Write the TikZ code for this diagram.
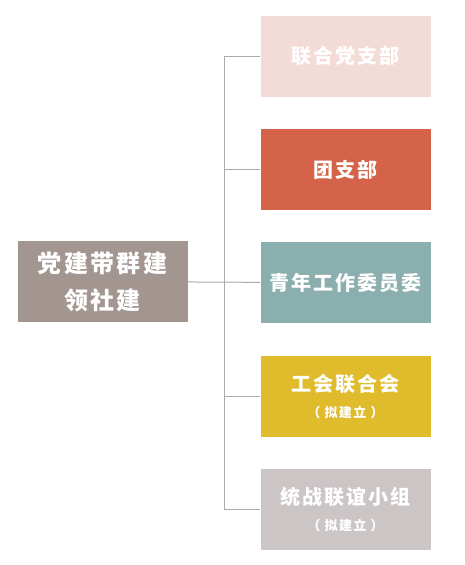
\documentclass[tikz,border=0pt]{standalone}
\usepackage{fontspec}
\usepackage{xcolor}
\usepackage{tikz}
\usetikzlibrary{positioning}
\newfontfamily\cjk{Noto Sans CJK SC}[LetterSpace=10]
\newcommand{\subtxt}[1]{{\fontsize{13}{16}\selectfont #1}}
\definecolor{c0}{HTML}{A39590}
\definecolor{c1}{HTML}{F3DCD7}
\definecolor{c2}{HTML}{D4634A}
\definecolor{c3}{HTML}{8BAFAE}
\definecolor{c4}{HTML}{E0BB2C}
\definecolor{c5}{HTML}{CBC5C6}
\definecolor{linec}{HTML}{ABABAB}

\begin{document}
\begin{tikzpicture}[x=1pt,y=1pt,
      main/.style = {minimum width=170pt, minimum height=81pt, inner sep=0pt, text=white, align=center,
        font=\cjk\bfseries\fontsize{20}{28}\selectfont},
      link/.style = {draw=linec, line width=1pt}]
      \useasboundingbox (0,0) rectangle (465,-565);
      \node[main, fill=c0, font=\cjk\bfseries\fontsize{24}{37}\selectfont] (0) at (102.5,-281.5) {党建带群建\\领社建};
      \node[main, fill=c1] (1) at (345.5,-56) {联合党支部};
      \node[main, fill=c2] (2) [below=32pt of 1] {团支部};
      \node[main, fill=c3] (3) [below=32pt of 2] {青年工作委员委};
      \node[main, fill=c4] (4) [below=32pt of 3] {工会联合会\\[-2pt]\subtxt{（~拟建立~）}};
      \node[main, fill=c5] (5) [below=32pt of 4] {统战联谊小组\\[-2pt]\subtxt{（~拟建立~）}};
      \coordinate (t) at (224,-281.5);

      \draw[link] (t |- 1.west) -- (t |- 5.west);
      \draw[link] (0) -- (3);
      \draw[link] (t |- 1.west) -- (1);
      \draw[link] (t |- 2.west) -- (2);
      \draw[link] (t |- 4.west) -- (4);
      \draw[link] (t |- 5.west) -- (5);
    \end{tikzpicture}
\end{document}
